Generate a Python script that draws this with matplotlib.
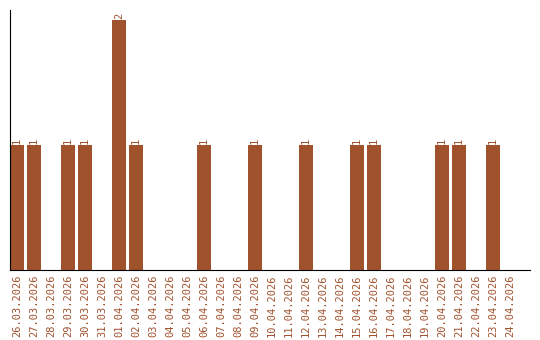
import matplotlib
matplotlib.use("Agg")
import matplotlib.pyplot as plt

dates = ["26.03.2026", "27.03.2026", "28.03.2026", "29.03.2026", "30.03.2026",
         "31.03.2026", "01.04.2026", "02.04.2026", "03.04.2026", "04.04.2026",
         "05.04.2026", "06.04.2026", "07.04.2026", "08.04.2026", "09.04.2026",
         "10.04.2026", "11.04.2026", "12.04.2026", "13.04.2026", "14.04.2026",
         "15.04.2026", "16.04.2026", "17.04.2026", "18.04.2026", "19.04.2026",
         "20.04.2026", "21.04.2026", "22.04.2026", "23.04.2026", "24.04.2026"]
counts = [1, 1, 0, 1, 1, 0, 2, 1, 0, 0, 0, 1, 0, 0, 1,
          0, 0, 1, 0, 0, 1, 1, 0, 0, 0, 1, 1, 0, 1, 0]

color = "#A0522D"
fig = plt.figure(figsize=(5.4, 3.4), dpi=100)
ax = fig.add_axes([10/540, 70/340, 520/540, 260/340])
x = list(range(len(dates)))
w = 14/17
ax.bar(x, counts, width=w, color=color)
for xi, c in zip(x, counts):
    if c > 0:
        ax.text(xi, c + 0.01, str(c), rotation=90, ha="center", va="bottom",
                color=color, fontsize=7.5, family="DejaVu Sans Mono")
ax.set_xlim(-w/2, -w/2 + 520/17)
ax.set_ylim(0, 2.08)
ax.spines["top"].set_visible(False)
ax.spines["right"].set_visible(False)
ax.set_yticks([])
ax.set_xticks(x)
ax.set_xticklabels(dates, rotation=90, color=color, fontsize=7.5, family="DejaVu Sans Mono")
ax.tick_params(axis="x", length=0, pad=3)
fig.savefig("out.png", dpi=100)
